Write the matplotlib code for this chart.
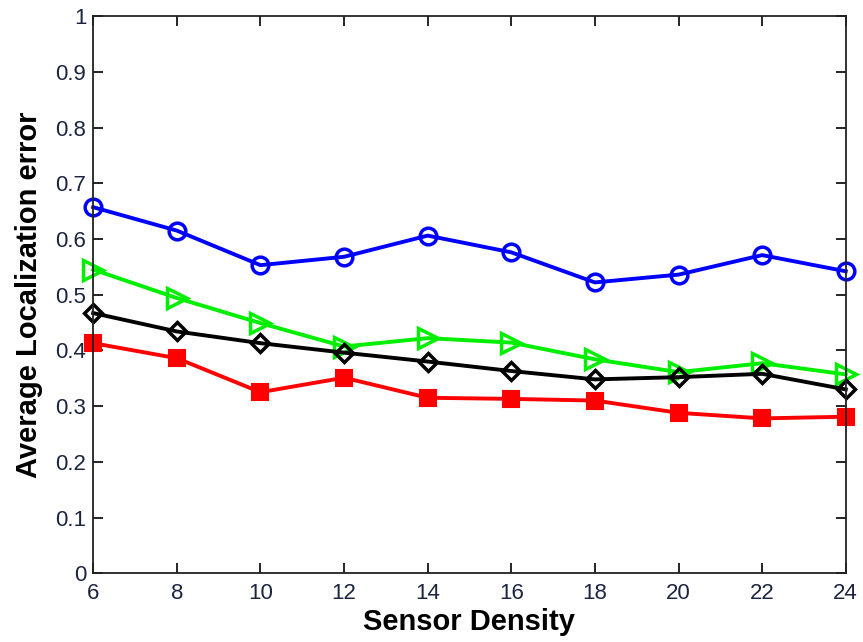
import matplotlib
matplotlib.use("Agg")
import matplotlib.pyplot as plt

density = [6, 8, 10, 12, 14, 16, 18, 20, 22, 24]
err_blue = [0.657, 0.615, 0.553, 0.568, 0.606, 0.576, 0.522, 0.536, 0.571, 0.542]
err_green = [0.545, 0.494, 0.449, 0.407, 0.422, 0.414, 0.384, 0.361, 0.377, 0.357]
err_black = [0.467, 0.434, 0.413, 0.396, 0.380, 0.363, 0.348, 0.352, 0.358, 0.330]
err_red = [0.413, 0.386, 0.325, 0.351, 0.315, 0.313, 0.310, 0.288, 0.278, 0.281]

plt.rcParams['font.family'] = ['Liberation Sans', 'DejaVu Sans']

fig = plt.figure(figsize=(8.63, 6.42), dpi=100)
ax = fig.add_axes([0.108, 0.107, 0.872, 0.868])

lw = 2.8
ax.plot(density, err_blue, color='#0000ff', marker='o', markersize=12, markerfacecolor='none',
        markeredgewidth=2.5, linewidth=lw, clip_on=False)
ax.plot(density, err_green, color='#00ee00', marker='>', markersize=14, markerfacecolor='none',
        markeredgewidth=2.5, linewidth=lw, clip_on=False)
ax.plot(density, err_black, color='black', marker='D', markersize=9.5, markerfacecolor='none',
        markeredgewidth=2.5, linewidth=lw, clip_on=False)
ax.plot(density, err_red, color='#ff0000', marker='s', markersize=12, markerfacecolor='#ff0000',
        markeredgewidth=1.5, linewidth=lw, clip_on=False)

ax.set_xlim(6, 24)
ax.set_ylim(0, 1)
ax.set_xticks(density)
ax.set_yticks([i / 10 for i in range(11)])
ax.set_yticklabels(['0', '0.1', '0.2', '0.3', '0.4', '0.5', '0.6', '0.7', '0.8', '0.9', '1'])
ax.tick_params(direction='in', length=7, width=1.2, labelsize=16, top=True, right=True,
               labelcolor='#1c2540')
ax.tick_params(axis='x', pad=7)
ax.tick_params(axis='y', pad=5)
for sp in ax.spines.values():
    sp.set_linewidth(1.3)
    sp.set_color('#222222')

ax.set_xlabel('Sensor Density', fontsize=21, fontweight='bold', labelpad=3)
ax.set_ylabel('Average Localization error', fontsize=21, fontweight='bold', labelpad=9)

fig.savefig('out.png', dpi=100)
